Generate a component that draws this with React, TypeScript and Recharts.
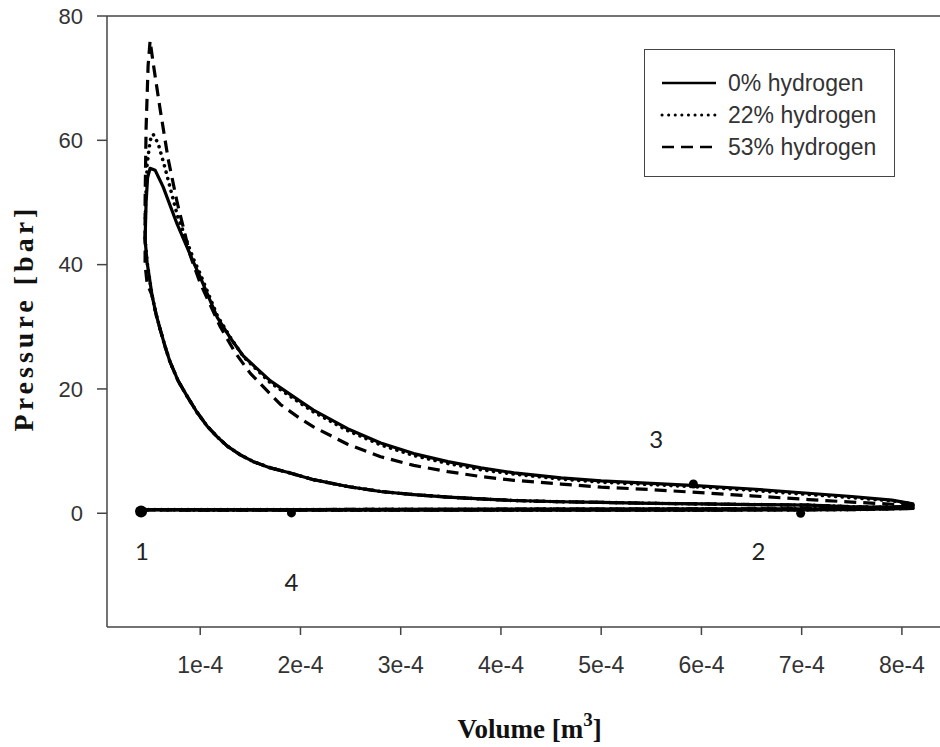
import React from "react";
import {
  ComposedChart,
  Line,
  Scatter,
  XAxis,
  YAxis,
  ReferenceLine,
  Legend,
} from "recharts";

// volume in units of 1e-4 m3, pressure in bar

// intake stroke (shared)
const intakeV = [0.41, 1, 2, 3, 4, 5, 6, 7, 7.6, 8.11];
const intakeP = [0.55, 0.5, 0.5, 0.5, 0.5, 0.5, 0.5, 0.55, 0.6, 0.8];

// compression stroke (shared)
const compressionV = [8.11, 7.5, 7.07, 6.5, 6.0, 5.5, 5.0, 4.6, 4.13, 3.8, 3.47, 3.13, 2.8, 2.47, 2.13, 1.87, 1.7, 1.53, 1.4, 1.27, 1.17, 1.07, 0.97, 0.87, 0.78, 0.7, 0.65, 0.6, 0.56, 0.52];
const compressionP = [0.9, 1.05, 1.3, 1.4, 1.5, 1.6, 1.75, 1.85, 2.05, 2.3, 2.6, 3.0, 3.5, 4.3, 5.4, 6.6, 7.3, 8.3, 9.4, 10.8, 12.3, 14, 16.2, 18.8, 21.3, 24.3, 26.8, 29.6, 32, 35];

// combustion + expansion, 0% hydrogen
const h0V = [0.47, 0.45, 0.46, 0.475, 0.5, 0.55, 0.63, 0.77, 0.93, 1.0, 1.17, 1.3, 1.43, 1.7, 2.0, 2.13, 2.47, 2.8, 3.13, 3.47, 3.8, 4.13, 4.6, 5.0, 5.5, 5.9, 6.5, 7.0, 7.5, 7.9, 8.11];
const h0P = [40.4, 44, 50, 54, 55.5, 55.2, 52.5, 46.5, 40.5, 38, 31.5, 28.2, 25.3, 21.3, 18, 16.6, 13.6, 11.3, 9.6, 8.3, 7.3, 6.5, 5.7, 5.2, 4.8, 4.5, 3.9, 3.3, 2.7, 2.1, 1.5];

// combustion + expansion, 22% hydrogen
const h22V = [0.47, 0.45, 0.455, 0.47, 0.5, 0.53, 0.58, 0.65, 0.77, 0.93, 1.0, 1.17, 1.3, 1.43, 1.7, 2.0, 2.13, 2.47, 2.8, 3.13, 3.47, 3.8, 4.13, 4.6, 5.0, 5.5, 5.9, 6.5, 7.0, 7.5, 7.9, 8.11];
const h22P = [40.4, 44, 50, 56, 60, 61, 59.5, 55.5, 48, 41, 38.5, 31.8, 28.3, 25.2, 21, 17.7, 16.3, 13.3, 11.0, 9.3, 8.0, 7.0, 6.3, 5.5, 5.0, 4.6, 4.3, 3.7, 3.1, 2.5, 2.0, 1.5];

// combustion + expansion, 53% hydrogen
const h53V = [0.47, 0.45, 0.45, 0.46, 0.48, 0.5, 0.53, 0.6, 0.68, 0.77, 0.9, 1.0, 1.2, 1.35, 1.5, 1.8, 2.0, 2.13, 2.47, 2.8, 3.13, 3.47, 3.8, 4.13, 4.6, 5.0, 5.5, 5.9, 6.5, 7.07, 7.5, 7.9, 8.11];
const h53P = [37, 40, 50, 62, 72, 76, 72.5, 65, 57, 50, 41.5, 37, 30, 25.8, 22.5, 17.5, 15.2, 13.9, 11.1, 9.1, 7.7, 6.7, 5.9, 5.3, 4.7, 4.2, 3.8, 3.4, 2.8, 2.2, 1.8, 1.45, 1.3];

// blowdown + exhaust stroke (shared)
const exhaustV = [8.11, 7.5, 6.0, 4.0, 2.0, 0.41];
const exhaustP = [1.1, 0.75, 0.7, 0.65, 0.6, 0.6];

// state points 1-4
const markerV = [0.41, 1.91, 6.99, 5.92];
const markerP = [0.3, 0.05, 0.0, 4.7];
const markerR = [6, 4.5, 4.5, 4.5];
const labelText = ["1", "4", "2", "3"];
const labelV = [0.42, 1.91, 6.57, 5.55];
const labelP = [-6, -11, -6, 12];

const xTicks = [1, 2, 3, 4, 5, 6, 7, 8];
const yTicks = [0, 20, 40, 60, 80];

const zip = (v: number[], p: number[]) => v.map((x, i) => ({ v: x, p: p[i] }));
const loop = (v: number[], p: number[]) => [
  ...zip(intakeV, intakeP),
  ...zip(compressionV, compressionP),
  ...zip(v, p),
  ...zip(exhaustV, exhaustP),
];

const series = [
  { name: "0% hydrogen", data: loop(h0V, h0P), dash: undefined, width: 3.2, cap: "butt" },
  { name: "22% hydrogen", data: loop(h22V, h22P), dash: "0.1 6.5", width: 3.6, cap: "round" },
  { name: "53% hydrogen", data: loop(h53V, h53P), dash: "12 7", width: 3.2, cap: "butt" },
];

const markers = markerV.map((v, i) => ({ v, p: markerP[i], r: markerR[i] }));
const labels = labelV.map((v, i) => ({ v, p: labelP[i], text: labelText[i] }));

const tickStyle = { fontSize: 22, fill: "#333", fontFamily: "Liberation Sans, Arial, sans-serif" };

const renderLegend = (props: any) => (
  <div
    style={{
      width: 251,
      height: 128,
      boxSizing: "border-box",
      border: "1.5px solid #444",
      background: "#fff",
      paddingTop: 17,
    }}
  >
    {(props.payload || []).map((entry: any) => {
      const s = series.find((x) => x.name === entry.value);
      if (!s) return null;
      return (
        <div key={entry.value} style={{ display: "flex", alignItems: "center", height: 32 }}>
          <svg width={57} height={10} style={{ marginLeft: 15 }}>
            <line x1={2} y1={5} x2={56} y2={5} stroke="#000" strokeWidth={s.width - 0.6}
              strokeDasharray={s.dash} strokeLinecap={s.cap as any} />
          </svg>
          <span style={{ marginLeft: 11, fontSize: 23, color: "#333", fontFamily: "Liberation Sans, Arial, sans-serif" }}>
            {entry.value}
          </span>
        </div>
      );
    })}
  </div>
);

export default function App() {
  return (
    <div style={{ position: "absolute", left: 0, top: 0, width: 940, height: 747, background: "#fff" }}>
      <ComposedChart width={940} height={747} margin={{ top: 16, right: 0, left: 47, bottom: 60 }}>
        <XAxis
          dataKey="v"
          type="number"
          domain={[0.07, 8.38]}
          allowDataOverflow
          ticks={xTicks}
          interval={0}
          tickFormatter={(v) => `${v}e-4`}
          height={60}
          stroke="#444"
          strokeWidth={1.5}
          tickSize={8}
          tickMargin={22}
          tick={{ ...tickStyle, fontSize: 23 }}
          label={{
            content: ({ viewBox }: any) => (
              <text
                x={viewBox.x + viewBox.width / 2 + 6}
                y={738}
                textAnchor="middle"
                fontFamily="Liberation Serif, Times New Roman, serif"
                fontWeight="bold"
                fontSize={27}
                fill="#111"
              >
                Volume [m<tspan dy={-12} fontSize={19}>3</tspan>
                <tspan dy={12}>]</tspan>
              </text>
            ),
          }}
        />
        <YAxis
          dataKey="p"
          type="number"
          domain={[-18.3, 80]}
          allowDataOverflow
          ticks={yTicks}
          interval={0}
          width={60}
          stroke="#444"
          strokeWidth={1.5}
          tickSize={10}
          tickMargin={14}
          tick={tickStyle}
          label={{
            content: () => (
              <text
                x={33}
                y={318}
                transform="rotate(-90 33 318)"
                textAnchor="middle"
                fontFamily="Liberation Serif, Times New Roman, serif"
                fontWeight="bold"
                fontSize={28}
                letterSpacing={4}
                fill="#111"
              >
                Pressure [bar]
              </text>
            ),
          }}
        />
        <ReferenceLine y={80} stroke="#444" strokeWidth={1.5} />
        <Legend
          layout="horizontal"
          verticalAlign="middle"
          align="center"
          content={renderLegend}
          wrapperStyle={{ left: 644, top: 49, width: 251, height: 128 }}
        />
        {series.map((s) => (
          <Line
            key={s.name}
            name={s.name}
            data={s.data}
            dataKey="p"
            type="linear"
            stroke="#000"
            strokeWidth={s.width}
            strokeDasharray={s.dash}
            strokeLinecap={s.cap as any}
            strokeLinejoin="round"
            dot={false}
            activeDot={false}
            isAnimationActive={false}
          />
        ))}
        <Scatter
          data={markers}
          dataKey="p"
          legendType="none"
          isAnimationActive={false}
          shape={(props: any) => <circle cx={props.cx} cy={props.cy} r={props.payload.r} fill="#000" />}
        />
        <Scatter
          data={labels}
          dataKey="p"
          legendType="none"
          isAnimationActive={false}
          shape={(props: any) => (
            <text x={props.cx} y={props.cy} textAnchor="middle" dominantBaseline="central"
              fontSize={24} fill="#222" fontFamily="Lato, Noto Sans, sans-serif">
              {props.payload.text}
            </text>
          )}
        />
      </ComposedChart>
    </div>
  );
}
